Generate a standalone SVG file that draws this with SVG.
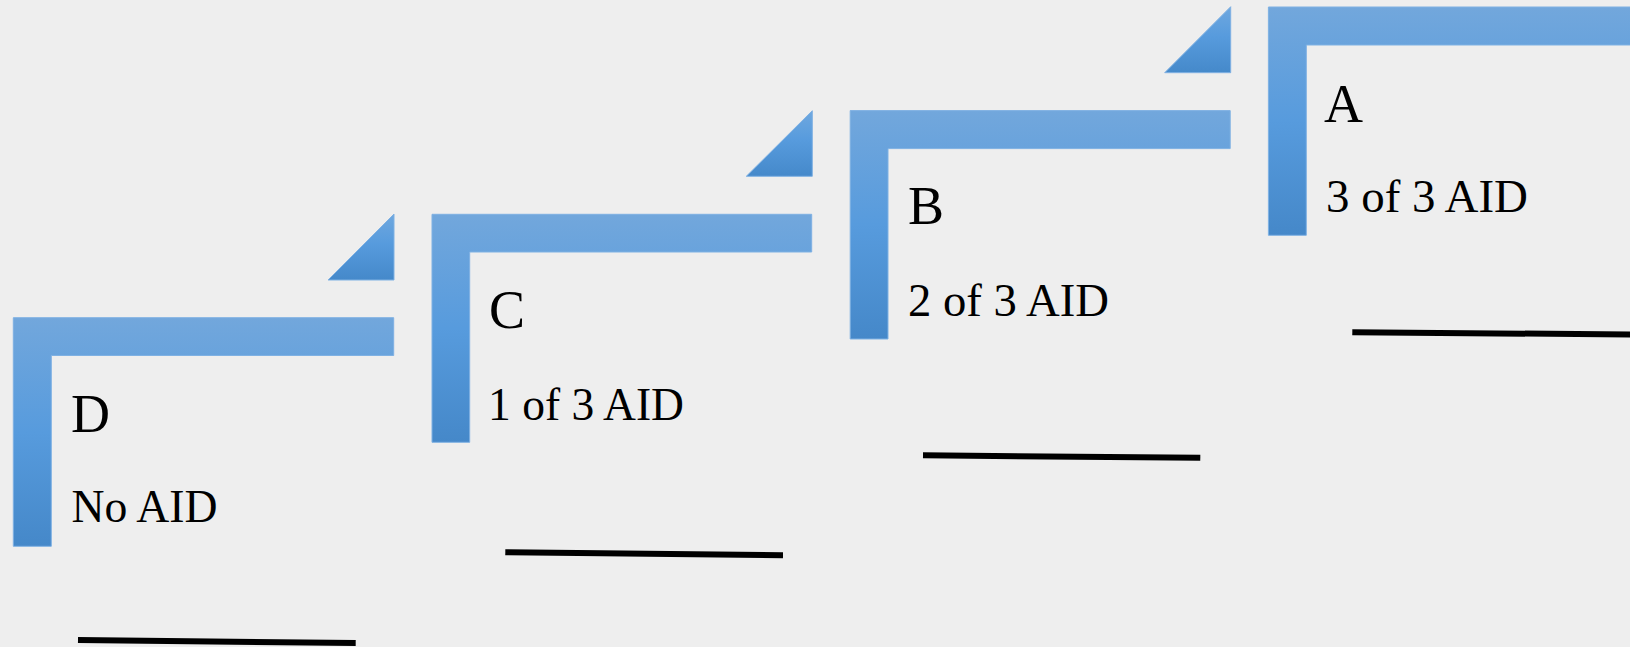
<svg xmlns="http://www.w3.org/2000/svg" width="1630" height="647" viewBox="0 0 1630 647">
  <defs>
    <linearGradient id="barFill" x1="0" y1="0" x2="0" y2="1">
      <stop offset="0" stop-color="#72a7dc"/>
      <stop offset="0.5" stop-color="#579bdd"/>
      <stop offset="1" stop-color="#4588c9"/>
    </linearGradient>
    <linearGradient id="tabFill" x1="0" y1="0" x2="0" y2="1">
      <stop offset="0" stop-color="#6fa8df"/>
      <stop offset="0.45" stop-color="#579bdd"/>
      <stop offset="1" stop-color="#4589ca"/>
    </linearGradient>
  </defs>
  <style>
    .frame { fill: url(#barFill); stroke: #7fb1e3; stroke-width: 1; }
    .tab { fill: url(#tabFill); stroke: #7fb1e3; stroke-width: 1; }
    .title { font-family: "Liberation Serif", "Times New Roman", serif; font-size: 54px; fill: #000; }
    .sub { font-family: "Liberation Serif", "Times New Roman", serif; font-size: 46px; fill: #000; }
    .rule { stroke: #000; stroke-width: 6; fill: none; }
  </style>

  <rect width="1630" height="647" fill="#eeeeee"/>

  <!-- Card D -->
  <g id="card-d">
    <path class="tab" d="M394 214 V280 H328 Z"/>
    <path class="frame" d="M13.3 317.7 H393.7 V355.5 H51.3 V546.3 H13.3 Z"/>
    <text class="title" x="71" y="431.7">D</text>
    <text class="sub" x="71.5" y="522.3" textLength="146" lengthAdjust="spacingAndGlyphs">No AID</text>
    <line class="rule" x1="78" y1="640" x2="355.7" y2="643"/>
  </g>

  <!-- Card C -->
  <g id="card-c">
    <path class="tab" d="M812.3 110.7 V176.3 H746.3 Z"/>
    <path class="frame" d="M432 214.3 H811.7 V252 H469.7 V442.3 H432 Z"/>
    <text class="title" x="489" y="328.3">C</text>
    <text class="sub" x="488" y="420" textLength="196" lengthAdjust="spacingAndGlyphs">1 of 3 AID</text>
    <line class="rule" x1="505.3" y1="552.2" x2="783" y2="555.3"/>
  </g>

  <!-- Card B -->
  <g id="card-b">
    <path class="tab" d="M1230.7 6.7 V72.7 H1164.7 Z"/>
    <path class="frame" d="M850.2 110.6 H1230.2 V148.6 H888 V339 H850.2 Z"/>
    <text class="title" x="908" y="224.3">B</text>
    <text class="sub" x="908" y="316" textLength="201" lengthAdjust="spacingAndGlyphs">2 of 3 AID</text>
    <line class="rule" x1="923" y1="455.3" x2="1200.3" y2="457.8"/>
  </g>

  <!-- Card A -->
  <g id="card-a">
    <path class="frame" d="M1268.4 7 H1640 V45 H1306.3 V235.3 H1268.4 Z"/>
    <text class="title" x="1324" y="121.7">A</text>
    <text class="sub" x="1326" y="211.7" textLength="202" lengthAdjust="spacingAndGlyphs">3 of 3 AID</text>
    <line class="rule" x1="1352.3" y1="332.2" x2="1632" y2="334.5"/>
  </g>

  <g id="connectors"/>
</svg>
